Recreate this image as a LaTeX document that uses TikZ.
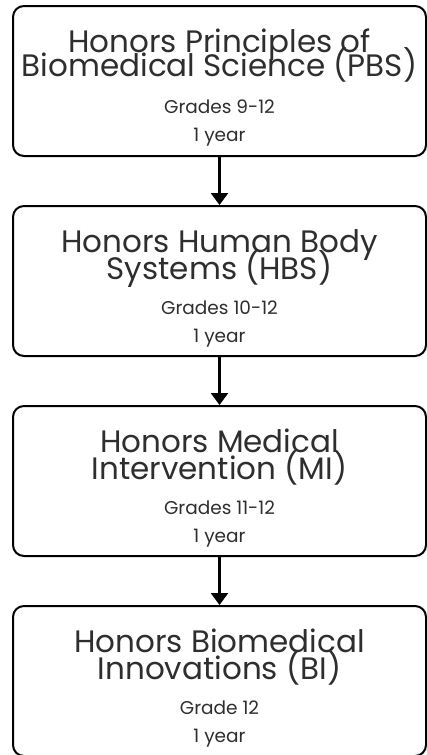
\documentclass[tikz,border=0pt]{standalone}
\usepackage{fontspec}
\setmainfont{Poppins}
\usepackage{tikz}
\usetikzlibrary{positioning, arrows.meta}

\newcommand{\ctitle}{\fontsize{31}{24}\selectfont\lineskiplimit=-100pt\relax}
\newcommand{\cinfo}{\fontsize{18.5}{24}\selectfont}
\newcommand{\ctop}{\rule{0pt}{37pt}}

\tikzset{
  course/.style={draw, line width=2pt, rounded corners=11pt, minimum width=413pt,
    minimum height=150pt, align=center, inner sep=0pt, text=black!82, font=\ctitle},
  link/.style={line width=2.6pt, -{Triangle[width=17pt,length=12pt]}}
}

\begin{document}
\begin{tikzpicture}[node distance=48pt]
\useasboundingbox (0,0) rectangle (427pt,-755pt);
\node[course] (pbs) at (219.5pt, -81pt) {\ctop Honors Principles of\\
  Biomedical Science (PBS)\\[13pt] \cinfo Grades 9-12\\[4pt] \cinfo 1 year};
\node[course, below=of pbs] (hbs) {\ctop Honors Human Body\\[3pt]
  Systems (HBS)\\[11pt] \cinfo Grades 10-12\\[4pt] \cinfo 1 year};
\node[course, below=of hbs] (mi) {\ctop Honors Medical\\[3pt]
  Intervention (MI)\\[11pt] \cinfo Grades 11-12\\[4pt] \cinfo 1 year};
\node[course, below=of mi] (bi) {\ctop Honors Biomedical\\[3pt]
  Innovations (BI)\\[11pt] \cinfo Grade 12\\[4pt] \cinfo 1 year};
% arrows between the courses
\draw[link] (pbs) -- (hbs);
\draw[link] (hbs) -- (mi);
\draw[link] (mi) -- (bi);
\end{tikzpicture}
\end{document}
